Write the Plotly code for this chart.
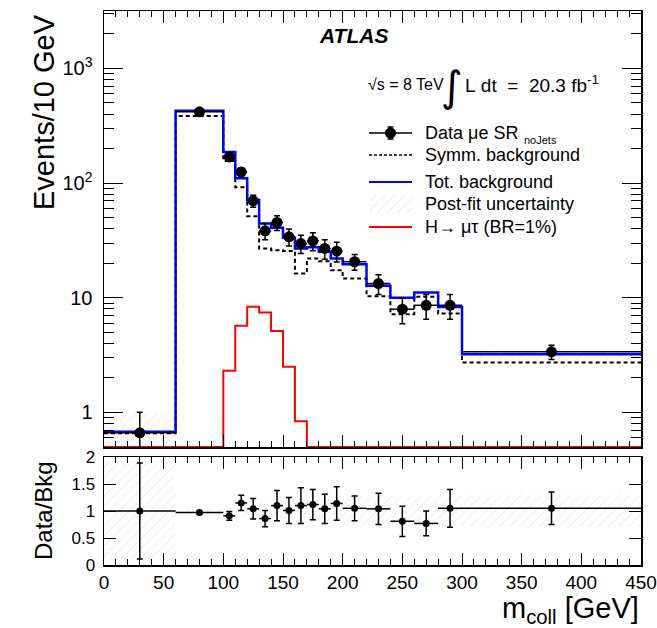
import numpy as np
import plotly.graph_objects as go

# ---------------- data ----------------
edges = [0, 60, 100, 110, 120, 130, 140, 150, 160, 170, 180, 190, 200, 220, 240, 260, 280, 300, 450]
data_vals = [0.664, 418, 169, 125, 70, 38.3, 45.3, 34, 29.7, 31.3, 26.9, 25.5, 20.6, 13.3, 7.95, 8.6, 8.6, 3.38]
data_err = [0.34, 10, 13, 11, 8.4, 6.2, 6.7, 5.8, 5.4, 5.6, 5.2, 5.0, 3.2, 2.6, 2.0, 2.1, 2.1, 0.48]
tot_bkg = [0.678, 426, 187, 110, 71, 44.5, 40.7, 33.3, 26.9, 27.5, 25.2, 22.0, 19.6, 12.7, 10.0, 11.1, 8.3, 3.22]
symm_bkg = [0.66, 385, 156, 92, 51.4, 26.9, 26.0, 25.6, 16.3, 22.0, 20.8, 17.4, 14.7, 10.3, 7.2, 10.2, 7.3, 2.73]
signal = [0, 0, 2.31, 5.69, 8.33, 7.45, 5.14, 2.50, 0.84, 0, 0, 0, 0, 0, 0, 0, 0, 0]
bkg_unc_rel = [0.47, 0.04, 0.06, 0.08, 0.08, 0.10, 0.10, 0.10, 0.10, 0.10, 0.10, 0.10, 0.10, 0.10, 0.10, 0.10, 0.10, 0.10]

ratio_vals = [1.0, 0.97, 0.91, 1.15, 1.04, 0.86, 1.10, 1.01, 1.10, 1.12, 1.04, 1.14, 1.05, 1.04, 0.81, 0.77, 1.05, 1.05]
ratio_err = [0.89, 0.02, 0.08, 0.14, 0.19, 0.15, 0.28, 0.24, 0.33, 0.28, 0.27, 0.31, 0.23, 0.29, 0.28, 0.23, 0.35, 0.30]
ratio_band = [0.90, 0.03, 0.06, 0.10, 0.15, 0.15, 0.15, 0.20, 0.20, 0.20, 0.20, 0.20, 0.28, 0.28, 0.28, 0.28, 0.28, 0.30]

y_min, y_max_log = 0.5, 3.5

# ---------------- derived ----------------
e = np.array(edges, dtype=float)
centers = 0.5 * (e[:-1] + e[1:])
halfw = 0.5 * (e[1:] - e[:-1])


def step_xy(vals):
    return list(e), list(vals) + [vals[-1]]


def band_xy(lo, hi):
    xs, ys = [], []
    for i in range(len(lo)):
        xs += [e[i], e[i + 1], e[i + 1], e[i], e[i], None]
        ys += [lo[i], lo[i], hi[i], hi[i], lo[i], None]
    return xs, ys


FONT = "Liberation Sans, Arial, Helvetica, sans-serif"
HATCH = dict(shape="/", fgcolor="#c4c4c4", bgcolor="rgba(0,0,0,0)", size=7, solidity=0.12)

fig = go.Figure()

# uncertainty band (top)
tb = np.array(tot_bkg)
u = np.array(bkg_unc_rel)
bx, by = band_xy(list(tb * (1 - u)), list(tb * (1 + u)))
fig.add_trace(go.Scatter(x=bx, y=by, fill="toself", mode="lines", line=dict(width=0),
                         fillcolor="rgba(0,0,0,0)", fillpattern=HATCH, showlegend=False,
                         xaxis="x", yaxis="y", hoverinfo="skip"))

# signal
sig_plot = [v if v > 0 else y_min for v in signal]
sx, sy = step_xy(sig_plot)
fig.add_trace(go.Scatter(x=sx, y=sy, mode="lines", line=dict(color="#ff0000", width=2, shape="hv"),
                         showlegend=False, xaxis="x", yaxis="y"))

# symmetric background
dx, dy = step_xy(symm_bkg)
fig.add_trace(go.Scatter(x=dx, y=dy, mode="lines",
                         line=dict(color="black", width=2, shape="hv", dash="4px,3px"),
                         showlegend=False, xaxis="x", yaxis="y"))

# total background
tx, ty = step_xy(tot_bkg)
fig.add_trace(go.Scatter(x=tx, y=ty, mode="lines", line=dict(color="#0000ff", width=2.5, shape="hv"),
                         showlegend=False, xaxis="x", yaxis="y"))

# data
fig.add_trace(go.Scatter(x=centers, y=data_vals, mode="markers",
                         marker=dict(color="black", size=11, symbol="circle"),
                         error_y=dict(type="data", array=data_err, color="black", thickness=1.5, width=3),
                         error_x=dict(type="data", array=halfw, color="black", thickness=1.5, width=0),
                         showlegend=False, xaxis="x", yaxis="y"))

# ratio band
rb = np.array(ratio_band)
rx, ry = band_xy(list(1 - rb), list(1 + rb))
fig.add_trace(go.Scatter(x=rx, y=ry, fill="toself", mode="lines", line=dict(width=0),
                         fillcolor="rgba(0,0,0,0)", fillpattern=HATCH, showlegend=False,
                         xaxis="x2", yaxis="y2", hoverinfo="skip"))

# ratio points
fig.add_trace(go.Scatter(x=centers, y=ratio_vals, mode="markers",
                         marker=dict(color="black", size=7, symbol="circle"),
                         error_y=dict(type="data", array=ratio_err, color="black", thickness=1.5, width=3),
                         error_x=dict(type="data", array=halfw, color="black", thickness=1.5, width=0),
                         showlegend=False, xaxis="x2", yaxis="y2"))

# ---------------- legend (drawn on a pixel overlay of the top panel) ----------------
LX0, LX1 = 369, 412
leg_y = [133, 155, 182, 204, 227]
fig.add_trace(go.Scatter(x=[LX0, LX1], y=[leg_y[0]] * 2, mode="lines", line=dict(color="black", width=1.5),
                         showlegend=False, xaxis="x3", yaxis="y3", hoverinfo="skip"))
fig.add_trace(go.Scatter(x=[(LX0 + LX1) / 2], y=[leg_y[0]], mode="markers",
                         marker=dict(color="black", size=11),
                         error_y=dict(type="data", array=[6], color="black", thickness=1.5, width=3),
                         showlegend=False, xaxis="x3", yaxis="y3", hoverinfo="skip"))
fig.add_trace(go.Scatter(x=[LX0, LX1], y=[leg_y[1]] * 2, mode="lines",
                         line=dict(color="black", width=1.5, dash="3px,2px"),
                         showlegend=False, xaxis="x3", yaxis="y3", hoverinfo="skip"))
fig.add_trace(go.Scatter(x=[LX0, LX1], y=[leg_y[2]] * 2, mode="lines", line=dict(color="#0000ff", width=2),
                         showlegend=False, xaxis="x3", yaxis="y3", hoverinfo="skip"))
fig.add_trace(go.Scatter(x=[LX0, LX1, LX1, LX0, LX0], y=[leg_y[3] + 9, leg_y[3] + 9, leg_y[3] - 9, leg_y[3] - 9, leg_y[3] + 9],
                         fill="toself", mode="lines", line=dict(width=0), fillcolor="rgba(0,0,0,0)",
                         fillpattern=HATCH, showlegend=False, xaxis="x3", yaxis="y3", hoverinfo="skip"))
fig.add_trace(go.Scatter(x=[LX0, LX1], y=[leg_y[4]] * 2, mode="lines", line=dict(color="#ff0000", width=2),
                         showlegend=False, xaxis="x3", yaxis="y3", hoverinfo="skip"))

leg_text = ["Data \u03bce SR", "Symm. background", "Tot. background", "Post-fit uncertainty", "H\u2192 \u03bc\u03c4 (BR=1%)"]

W, H = 657, 628
ML, MR, MT, MB = 104, 16, 11, 63
PW, PH = W - ML - MR, H - MT - MB


def pxx(px):
    return (px - ML) / PW


def pyy(py):
    return (H - MB - py) / PH


top_dom = [pyy(447), 1.0]
rat_dom = [0.0, pyy(457)]

NB = "\u00a0"
ann = []
for t, yy in zip(leg_text, leg_y):
    ann.append(dict(x=423, y=yy, xref="x3", yref="y3", text=t, showarrow=False, xanchor="left",
                    yanchor="middle", font=dict(size=18, family=FONT, color="black")))
ann.append(dict(x=522, y=140, xref="x3", yref="y3", text="noJets", showarrow=False, xanchor="left",
                yanchor="middle", font=dict(size=11, family=FONT, color="black")))
ann.append(dict(x=317, y=35, xref="x3", yref="y3", text="<b><i>ATLAS</i></b>", showarrow=False,
                xanchor="left", yanchor="middle", font=dict(size=21, family=FONT, color="black")))
ann.append(dict(x=366, y=84, xref="x3", yref="y3", text="\u221as = 8 TeV", showarrow=False,
                xanchor="left", yanchor="middle", font=dict(size=16, family=FONT, color="black")))
ann.append(dict(x=452, y=86, xref="x3", yref="y3", text="\u222b", showarrow=False,
                xanchor="center", yanchor="middle", font=dict(size=42, family="DejaVu Sans", color="black")))
ann.append(dict(x=463, y=84, xref="x3", yref="y3",
                text="L" + NB + "dt" + NB * 2 + "=" + NB * 2 + "20.3" + NB + "fb<sup>-1</sup>", showarrow=False,
                xanchor="left", yanchor="middle", font=dict(size=19, family=FONT, color="black")))

# axis titles
ann.append(dict(x=pxx(44), y=pyy(12), xref="paper", yref="paper", text="Events/10 GeV", textangle=-90,
                showarrow=False, xanchor="center", yanchor="top", font=dict(size=29, family=FONT, color="black")))
ann.append(dict(x=pxx(44), y=pyy(511), xref="paper", yref="paper", text="Data/Bkg", textangle=-90,
                showarrow=False, xanchor="center", yanchor="middle", font=dict(size=24, family=FONT, color="black")))
ann.append(dict(x=pxx(640), y=pyy(610), xref="paper", yref="paper", text="m<sub>coll</sub> [GeV]",
                showarrow=False, xanchor="right", yanchor="middle", borderpad=0,
                font=dict(size=29, family=FONT, color="black")))

axis_common = dict(showline=True, linecolor="black", linewidth=1.5, mirror="allticks", ticks="inside",
                   tickcolor="black", tickwidth=1, showgrid=False, zeroline=False, automargin=False)

minor_log = [0.6, 0.7, 0.8, 0.9] + [v * m for m in (1, 10, 100) for v in range(2, 10)] + [2000, 3000]

fig.update_layout(
    width=W, height=H,
    margin=dict(l=ML, r=MR, t=MT, b=MB, autoexpand=False),
    paper_bgcolor="white", plot_bgcolor="white",
    font=dict(family=FONT, color="black"),
    showlegend=False,
    xaxis=dict(**axis_common, domain=[0, 1], anchor="y", range=[0, 450], dtick=50, tick0=0, ticklen=12,
               showticklabels=False, minor=dict(ticks="inside", dtick=10, ticklen=6, tickcolor="black")),
    yaxis=dict(**axis_common, domain=top_dom, anchor="x", type="log", range=[np.log10(y_min), y_max_log],
               tickmode="array", tickvals=[1, 10, 100, 1000],
               ticktext=["1", "10", "10<sup>2</sup>", "10<sup>3</sup>"], ticklen=19,
               tickfont=dict(size=20, family=FONT, color="black"), ticklabelstandoff=6,
               minor=dict(ticks="inside", tickvals=minor_log, ticklen=10, tickcolor="black")),
    xaxis2=dict(**axis_common, domain=[0, 1], anchor="y2", range=[0, 450], dtick=50, tick0=0, ticklen=12,
                tickfont=dict(size=19, family=FONT, color="black"),
                minor=dict(ticks="inside", dtick=10, ticklen=6, tickcolor="black")),
    yaxis2=dict(**axis_common, domain=rat_dom, anchor="x2", range=[0, 2], tickmode="array",
                tickvals=[0, 0.5, 1, 1.5, 2], ticktext=["0", "0.5", "1", "1.5", "2"], ticklen=12,
                tickfont=dict(size=17, family=FONT, color="black"), ticklabelstandoff=4),
    xaxis3=dict(overlaying="x", anchor="y3", range=[ML, W - MR], visible=False),
    yaxis3=dict(overlaying="y", anchor="x3", range=[447, 11], visible=False),
    annotations=ann,
)

post = ("document.documentElement.style.margin='0';document.body.style.margin='0';"
        "document.body.style.padding='0';document.body.style.overflow='hidden';")
fig.write_html("out.html", include_plotlyjs=True, post_script=post,
               config={"displayModeBar": False, "staticPlot": True})
